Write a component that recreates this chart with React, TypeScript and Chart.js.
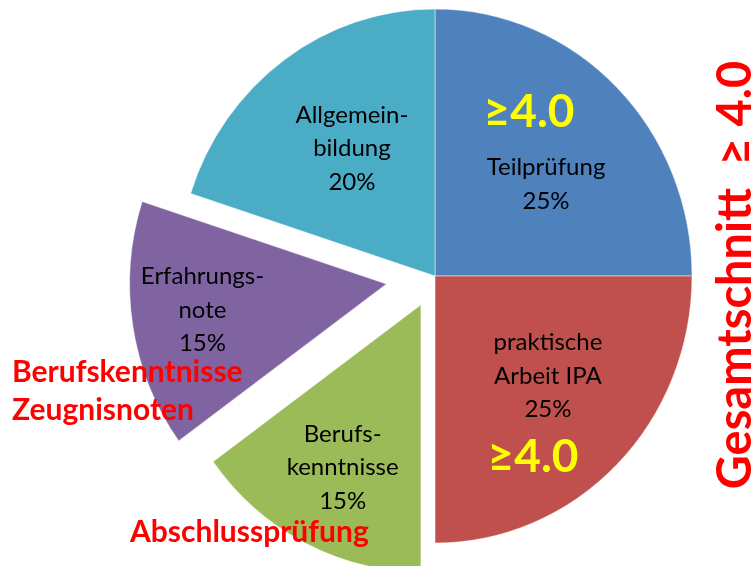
import React, { useEffect, useRef } from 'react';
import { Chart, registerables } from 'chart.js';

Chart.register(...registerables);

// ---- data ----
const categories = ['Teilprüfung', 'praktische Arbeit IPA', 'Berufskenntnisse', 'Erfahrungsnote', 'Allgemeinbildung'];
const sliceLines = [['Teilprüfung'], ['praktische', 'Arbeit IPA'], ['Berufs-', 'kenntnisse'], ['Erfahrungs-', 'note'], ['Allgemein-', 'bildung']];
const weights = [25, 25, 15, 15, 20];
const minGrades = ['≥4.0', '≥4.0'];
const sideNotes = ['Berufskenntnisse', 'Zeugnisnoten', 'Abschlussprüfung'];
const overallNote = 'Gesamtschnitt  ≥ 4.0';

// ---- styles / layout ----
const COLORS = ['#4F81BD', '#C0504D', '#9BBB59', '#8064A2', '#4BACC6'];
const EXPLODE = [0, 0, 31, 49, 0];
const RADIUS = 257;
const Y_STRETCH = 1.039;
// [fraction of radius, angle shift in degrees] relative to each slice's mid-angle
const LABEL_POS = [[0.553, 6.4], [0.577, -4.6], [0.68, -0.4], [0.723, 1.3], [0.578, 2]];
const LINE_H = 33.5;
const LABEL_FONT = '24px Lato, Calibri, sans-serif';
const BOLD = (s: number) => `bold ${s}px Lato, Calibri, sans-serif`;
// offsets relative to the pie centre
const GRADE_POS = [[94, -149], [98, 196]];
const SIDE_POS = [[-423, 106], [-423, 144], [-305, 266]];
const OVERALL_POS = [316, -1];

const decorPlugin = {
  id: 'pieDecor',
  afterDatasetsUpdate(chart: any) {
    const meta = chart.getDatasetMeta(0);
    meta.data.forEach((el: any, i: number) => {
      const e = EXPLODE[i];
      if (!e) return;
      const mid = (el.startAngle + el.endAngle) / 2;
      el.x += Math.cos(mid) * e;
      el.y += Math.sin(mid) * e;
    });
  },
  beforeDatasetsDraw(chart: any) {
    const { ctx, chartArea: a } = chart;
    const cx = (a.left + a.right) / 2;
    const cy = (a.top + a.bottom) / 2;
    ctx.save();
    ctx.translate(cx, cy);
    ctx.scale(1, Y_STRETCH);
    ctx.translate(-cx, -cy);
  },
  afterDatasetsDraw(chart: any) {
    const { ctx, chartArea: a } = chart;
    ctx.restore();
    const cx = (a.left + a.right) / 2;
    const cy = (a.top + a.bottom) / 2;
    const sy = (y: number) => cy + (y - cy) * Y_STRETCH;
    const meta = chart.getDatasetMeta(0);
    const total = weights.reduce((s, v) => s + v, 0);

    ctx.save();
    ctx.textAlign = 'center';
    ctx.textBaseline = 'alphabetic';
    ctx.fillStyle = '#000000';
    ctx.font = LABEL_FONT;
    meta.data.forEach((el: any, i: number) => {
      const ang = (el.startAngle + el.endAngle) / 2 + (LABEL_POS[i][1] * Math.PI) / 180;
      const r = el.outerRadius * LABEL_POS[i][0];
      const x = el.x + Math.cos(ang) * r;
      const y = sy(el.y + Math.sin(ang) * r);
      const lines = [...sliceLines[i], `${Math.round((weights[i] / total) * 100)}%`];
      lines.forEach((t, j) => {
        ctx.fillText(t, x, y + (j - (lines.length - 1) / 2) * LINE_H + 8);
      });
    });

    ctx.fillStyle = '#FFFF00';
    ctx.font = BOLD(46);
    minGrades.forEach((t, i) => ctx.fillText(t, cx + GRADE_POS[i][0], cy + GRADE_POS[i][1]));

    ctx.fillStyle = '#FF0000';
    ctx.font = BOLD(30);
    ctx.textAlign = 'left';
    sideNotes.forEach((t, i) => ctx.fillText(t, cx + SIDE_POS[i][0], cy + SIDE_POS[i][1]));

    ctx.font = BOLD(47);
    ctx.textAlign = 'center';
    ctx.translate(cx + OVERALL_POS[0], cy + OVERALL_POS[1]);
    ctx.rotate(-Math.PI / 2);
    ctx.fillText(overallNote, 0, 0);
    ctx.restore();
  },
};

export default function App() {
  const ref = useRef<HTMLCanvasElement>(null);
  useEffect(() => {
    const chart = new Chart(ref.current as HTMLCanvasElement, {
      type: 'pie',
      data: {
        labels: categories,
        datasets: [
          {
            data: weights,
            backgroundColor: COLORS,
            borderColor: 'rgba(255,255,255,0.5)',
            borderWidth: 1,
            radius: RADIUS,
          } as any,
        ],
      },
      options: {
        responsive: false,
        animation: false,
        events: [],
        layout: { padding: { left: 116, right: 0, top: 0, bottom: 14 } },
        plugins: { legend: { display: false }, tooltip: { enabled: false } },
      },
      plugins: [decorPlugin],
    });
    const fonts = (document as any).fonts;
    if (fonts && fonts.load) {
      Promise.all([fonts.load(LABEL_FONT), fonts.load(BOLD(46))]).then(() => chart.update()).catch(() => {});
    }
    return () => chart.destroy();
  }, []);
  return (
    <div style={{ position: 'absolute', left: 0, top: 0, width: 754, height: 566, background: '#ffffff' }}>
      <canvas ref={ref} width={754} height={566} style={{ display: 'block' }} />
    </div>
  );
}
